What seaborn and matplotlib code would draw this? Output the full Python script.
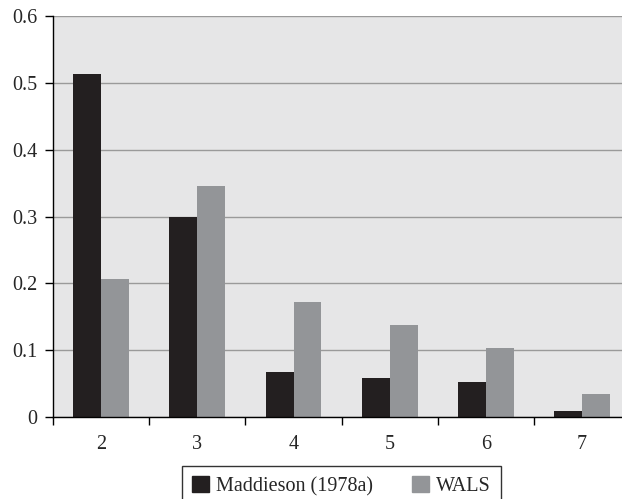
import pandas as pd
import matplotlib.pyplot as plt
import seaborn as sns

# DATA
categories = ["2", "3", "4", "5", "6", "7"]
maddieson = [0.513, 0.300, 0.067, 0.058, 0.052, 0.009]
wals = [0.207, 0.346, 0.172, 0.138, 0.103, 0.034]
series_names = ["Maddieson (1978a)", "WALS"]

df = pd.DataFrame({
    "cat": categories * 2,
    "value": maddieson + wals,
    "source": [series_names[0]] * len(categories) + [series_names[1]] * len(categories),
})

sns.set_theme(style="white")
plt.rcParams["font.family"] = ["Liberation Serif", "DejaVu Serif"]

fig = plt.figure(figsize=(6.22, 4.99), dpi=100)
ax = fig.add_axes([0.0852, 0.1643, 0.928, 0.8036])
ax.set_facecolor("#e6e6e7")

sns.barplot(
    data=df, x="cat", y="value", hue="source",
    palette=["#231f20", "#939598"], width=0.58,
    saturation=1, linewidth=0, ax=ax, legend=False,
)

# gridlines
ax.set_ylim(0, 0.6)
ax.set_yticks([0, 0.1, 0.2, 0.3, 0.4, 0.5, 0.6])
ax.set_yticklabels(["0", "0.1", "0.2", "0.3", "0.4", "0.5", "0.6"])
ax.yaxis.grid(True, color="#9a9a9a", linewidth=1)
ax.set_axisbelow(True)

# x ticks at boundaries, labels at centres
ax.set_xlim(-0.5, 5.5)
ax.set_xticks([i - 0.5 for i in range(len(categories) + 1)])
ax.set_xticklabels([])
ax.set_xticks(range(len(categories)), minor=True)
ax.set_xticklabels(categories, minor=True)
ax.tick_params(axis="x", which="major", direction="out", length=6, width=1, color="black", bottom=True)
ax.tick_params(axis="x", which="minor", length=0, pad=13, labelsize=14.5)
ax.tick_params(axis="y", direction="out", length=6, width=1, color="black", left=True, labelsize=14.5, pad=5)

for s in ["top", "right"]:
    ax.spines[s].set_visible(False)
for s in ["left", "bottom"]:
    ax.spines[s].set_color("black")
    ax.spines[s].set_linewidth(1)

ax.set_xlabel("")
ax.set_ylabel("")

handles = [plt.Rectangle((0, 0), 1, 1, color=c) for c in ["#231f20", "#939598"]]
leg = fig.legend(
    handles, series_names, loc="upper center", bbox_to_anchor=(0.549, 0.066),
    ncol=2, frameon=True, fancybox=False, edgecolor="black", fontsize=14.5,
    handlelength=0.85, handleheight=0.85, handletextpad=0.35, columnspacing=1.9,
    borderpad=0.5, borderaxespad=0,
)
leg.get_frame().set_linewidth(1)

fig.savefig("out.png", dpi=100)
